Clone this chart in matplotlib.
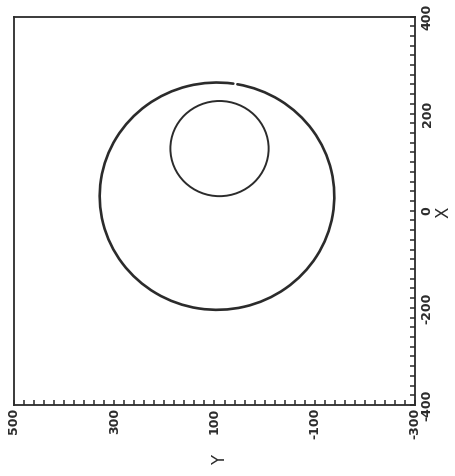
import matplotlib
matplotlib.use("Agg")
import matplotlib.pyplot as plt
from matplotlib.patches import Arc, Ellipse
from matplotlib.ticker import MultipleLocator, FixedLocator

# Circle definitions: (X centre, Y centre, radius)
outer_circle = (30.0, 95.0, 234.0)
inner_circle = (128.0, 90.0, 98.0)
# angular gap (degrees, measured from the +Y direction) left open on the outer contour
outer_gap = (98.0, 100.0)

x_ticks = [-400, -200, 0, 200, 400]
y_ticks = [500, 300, 100, -100, -300]
x_tick_labels = ["-400", "-200", "0", "200", "400"]
y_tick_labels = ["500", "300", "100", "-100", "-300"]

ink = "#2b2b2b"
plt.rcParams["font.family"] = ["DejaVu Sans"]

fig = plt.figure(figsize=(4.56, 4.76), dpi=100)
fig.patch.set_facecolor("white")
ax = fig.add_axes([14 / 456, 71 / 476, 401 / 456, 388.5 / 476])

# The sheet is turned on its side: Y runs along the bottom, X up the right edge,
# so each patch is centred at (Y, X).
cx, cy, r = outer_circle
ax.add_patch(Arc((cy, cx), 2 * r, 2 * r, theta1=outer_gap[1],
                 theta2=outer_gap[0] + 360.0, color=ink, lw=1.9,
                 capstyle="round"))
cx, cy, r = inner_circle
ax.add_patch(Ellipse((cy, cx), 2 * r, 2 * r, fill=False, edgecolor=ink,
                     lw=1.4))

ax.set_xlim(500, -300)
ax.set_ylim(-400, 400)

for side in ["left", "right", "top", "bottom"]:
    ax.spines[side].set_color(ink)
    ax.spines[side].set_linewidth(1.3)

ax.yaxis.tick_right()
ax.xaxis.set_major_locator(FixedLocator(y_ticks))
ax.xaxis.set_minor_locator(MultipleLocator(20))
ax.yaxis.set_major_locator(FixedLocator(x_ticks))
ax.yaxis.set_minor_locator(MultipleLocator(20))
ax.set_xticklabels(y_tick_labels, rotation=90, va="top", ha="center",
                   fontsize=9, fontweight="bold", color=ink)
ax.set_yticklabels(x_tick_labels, rotation=90, va="center", ha="left",
                   fontsize=9, fontweight="bold", color=ink)
ax.tick_params(axis="both", which="both", direction="in", length=3.5,
               width=1.1, color=ink)
ax.tick_params(axis="x", which="both", bottom=True, top=False, pad=2)
ax.tick_params(axis="y", which="both", right=True, left=False, pad=4)

ax.set_xlabel("Y", rotation=90, fontsize=12, color=ink)
ax.xaxis.set_label_coords((220 - 14) / 401, -(460 - 405) / 388.5)
ax.yaxis.set_label_position("right")
ax.set_ylabel("X", rotation=90, fontsize=12, color=ink)
ax.yaxis.set_label_coords((444 - 14) / 401, (405 - 212) / 388.5)
ax.xaxis.label.set_verticalalignment("center")
ax.yaxis.label.set_verticalalignment("center")
ax.yaxis.label.set_horizontalalignment("center")

fig.savefig("out.png", dpi=100, facecolor="white")
